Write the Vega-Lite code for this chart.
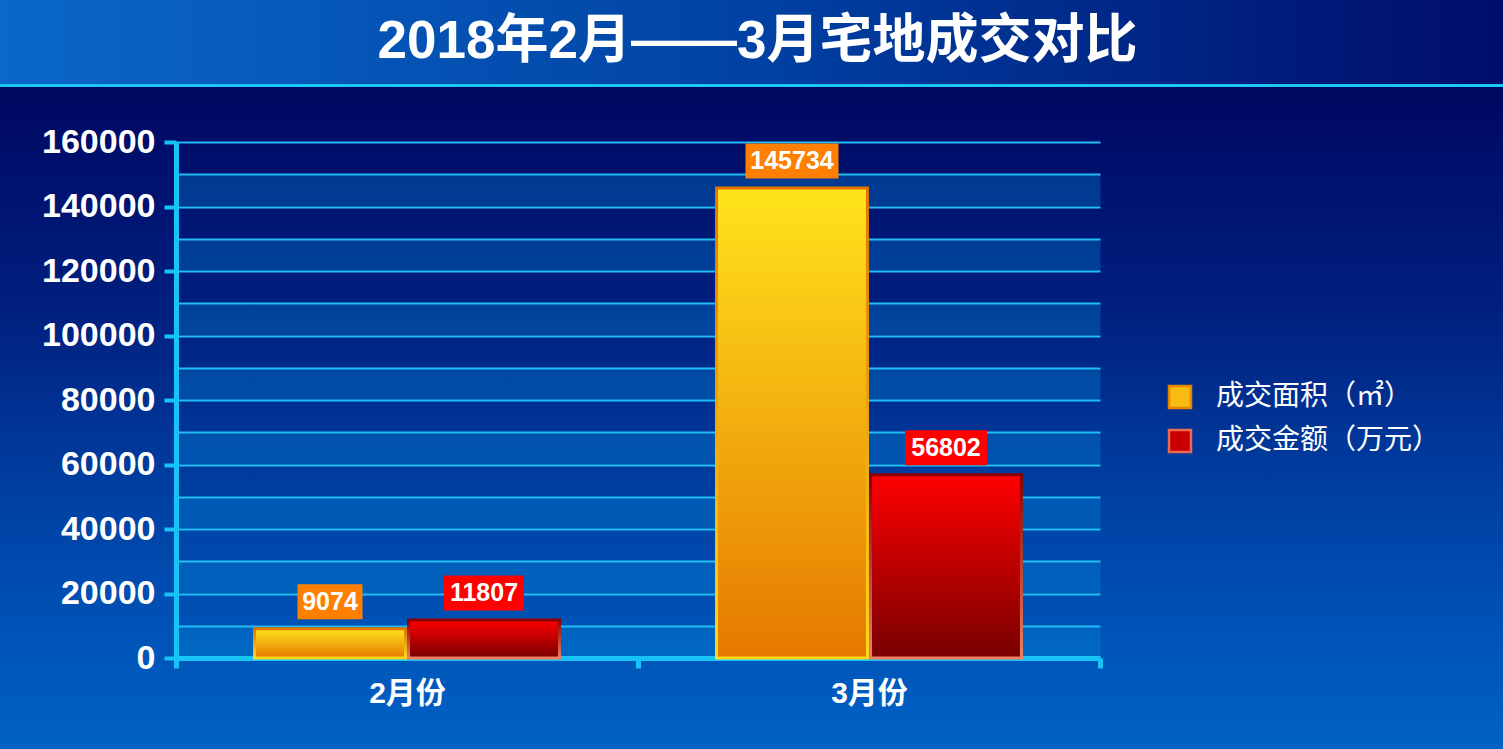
{
  "$schema": "https://vega.github.io/schema/vega-lite/v6.json",
  "padding": 0,
  "autosize": {"type": "pad"},
  "background": "#00308f",
  "spacing": 0,
  "config": {"view": {"stroke": null}},
  "vconcat": [
    {
      "width": 1503,
      "height": 84,
      "view": {
        "stroke": null,
        "fill": {"gradient": "linear", "x1": 0, "y1": 0, "x2": 1, "y2": 0,
          "stops": [{"offset": 0, "color": "#0a68c8"}, {"offset": 0.5, "color": "#0042a4"}, {"offset": 1, "color": "#000c6a"}]}
      },
      "data": {"values": [{"title": "2018年2月——3月宅地成交对比"}]},
      "mark": {"type": "text", "font": "Liberation Sans, Noto Sans CJK SC", "fontSize": 53, "fontWeight": "bold", "color": "#ffffff", "baseline": "middle", "align": "center", "dx": 6},
      "encoding": {"text": {"field": "title"}}
    },
    {
      "width": 1503,
      "height": 665,
      "view": {
        "stroke": null,
        "fill": {"gradient": "linear", "x1": 0, "y1": 0, "x2": 0, "y2": 1,
          "stops": [
            {"offset": 0, "color": "#1ec6f6"},
            {"offset": 0.0045, "color": "#1ec6f6"},
            {"offset": 0.0046, "color": "#00085e"},
            {"offset": 0.044, "color": "#000a66"},
            {"offset": 0.344, "color": "#00207f"},
            {"offset": 0.546, "color": "#00389a"},
            {"offset": 0.746, "color": "#004cb0"},
            {"offset": 1, "color": "#0062c6"}
          ]}
      },
      "data": {"values": [
        {"month": "2月份", "series": "成交面积（㎡）", "value": 9074},
        {"month": "2月份", "series": "成交金额（万元）", "value": 11807},
        {"month": "3月份", "series": "成交面积（㎡）", "value": 145734},
        {"month": "3月份", "series": "成交金额（万元）", "value": 56802}
      ]},
      "encoding": {
        "x": {
          "field": "month", "type": "nominal",
          "scale": {"domain": ["2月份", "3月份"], "range": [176, 1100], "paddingInner": 0, "paddingOuter": 0},
          "axis": {
            "orient": "bottom", "offset": -91, "tickBand": "extent",
            "labelFont": "Liberation Sans, Noto Sans CJK SC", "labelFontSize": 30, "labelFontWeight": "bold",
            "labelColor": "#ffffff", "labelAngle": 0, "labelPadding": 10,
            "tickSize": 10, "tickWidth": 5, "tickColor": "#17c3f7",
            "domainColor": "#17c3f7", "domainWidth": 5, "grid": false, "title": null
          }
        },
        "xOffset": {
          "field": "series", "type": "nominal",
          "scale": {"domain": ["成交面积（㎡）", "成交金额（万元）"], "paddingInner": 0.02, "paddingOuter": 0.51}
        },
        "y": {
          "field": "value", "type": "quantitative",
          "scale": {"domain": [0, 160000], "range": [574, 58], "nice": false, "zero": true},
          "axis": {
            "orient": "left", "offset": -176,
            "values": [0, 5000, 10000, 15000, 20000, 25000, 30000, 35000, 40000, 45000, 50000, 55000, 60000, 65000, 70000, 75000, 80000, 85000, 90000, 95000, 100000, 105000, 110000, 115000, 120000, 125000, 130000, 135000, 140000, 145000, 150000, 155000, 160000],
            "format": "d",
            "labelExpr": "datum.value % 20000 === 0 ? datum.label : ''",
            "labelFont": "Liberation Sans", "labelFontSize": 34, "labelFontWeight": "bold", "labelColor": "#ffffff",
            "labelPadding": 9, "labelOverlap": false, "labelBound": false,
            "tickSize": 12, "tickWidth": 4,
            "tickColor": {"condition": {"test": "datum.value % 20000 === 0", "value": "#17c3f7"}, "value": "rgba(0,0,0,0)"},
            "domainColor": "#17c3f7", "domainWidth": 5,
            "grid": true,
            "gridColor": {"condition": {"test": "datum.value % 10000 === 5000", "value": "rgba(0,140,215,0.33)"}, "value": "#22bdf3"},
            "gridWidth": {"condition": {"test": "datum.value % 10000 === 5000", "value": 31}, "value": 1.8},
            "gridOpacity": {"condition": {"test": "datum.value % 20000 === 15000", "value": 0}, "value": 1},
            "title": null
          }
        }
      },
      "layer": [
        {
          "transform": [{"filter": "datum.series === '成交面积（㎡）'"}],
          "mark": {
            "type": "bar", "strokeWidth": 3,
            "fill": {"gradient": "linear", "x1": 0, "y1": 0, "x2": 0, "y2": 1, "stops": [{"offset": 0, "color": "#ffe41c"}, {"offset": 1, "color": "#e67800"}]},
            "stroke": {"gradient": "linear", "x1": 0, "y1": 0, "x2": 0, "y2": 1, "stops": [{"offset": 0, "color": "#e27400"}, {"offset": 1, "color": "#ffd81c"}]}
          }
        },
        {
          "transform": [{"filter": "datum.series === '成交金额（万元）'"}],
          "mark": {
            "type": "bar", "strokeWidth": 3,
            "fill": {"gradient": "linear", "x1": 0, "y1": 0, "x2": 0, "y2": 1, "stops": [{"offset": 0, "color": "#ff0000"}, {"offset": 1, "color": "#780000"}]},
            "stroke": {"gradient": "linear", "x1": 0, "y1": 0, "x2": 0, "y2": 1, "stops": [{"offset": 0, "color": "#8a0000"}, {"offset": 1, "color": "#f08060"}]}
          }
        },
        {
          "transform": [{"filter": "datum.series === '成交面积（㎡）'"}],
          "mark": {"type": "point", "filled": true, "opacity": 1, "size": 10000, "yOffset": -27, "strokeWidth": 0, "color": "#ff8000"},
          "encoding": {
            "shape": {
              "field": "value", "type": "nominal",
              "scale": {"domain": [9074, 11807, 145734, 56802],
                "range": ["M-0.65,-0.35H0.65V0.35H-0.65Z", "M-0.8,-0.35H0.8V0.35H-0.8Z", "M-0.93,-0.35H0.93V0.35H-0.93Z", "M-0.82,-0.35H0.82V0.35H-0.82Z"]},
              "legend": null
            }
          }
        },
        {
          "transform": [{"filter": "datum.series === '成交金额（万元）'"}],
          "mark": {"type": "point", "filled": true, "opacity": 1, "size": 10000, "yOffset": -27, "strokeWidth": 0, "color": "#ff0000"},
          "encoding": {
            "shape": {
              "field": "value", "type": "nominal",
              "scale": {"domain": [9074, 11807, 145734, 56802],
                "range": ["M-0.65,-0.35H0.65V0.35H-0.65Z", "M-0.8,-0.35H0.8V0.35H-0.8Z", "M-0.93,-0.35H0.93V0.35H-0.93Z", "M-0.82,-0.35H0.82V0.35H-0.82Z"]},
              "legend": null
            }
          }
        },
        {
          "mark": {"type": "text", "font": "Liberation Sans", "fontSize": 25, "fontWeight": "bold", "color": "#ffffff", "baseline": "middle", "align": "center", "yOffset": -27},
          "encoding": {"text": {"field": "value", "type": "quantitative", "format": "d"}}
        },
        {
          "mark": {"type": "point", "filled": true, "opacity": 0, "size": 1},
          "encoding": {
            "fill": {
              "field": "series", "type": "nominal",
              "scale": {"domain": ["成交面积（㎡）", "成交金额（万元）"], "range": ["#f8bc12", "#c80000"]},
              "legend": {
                "orient": "none", "legendX": 1166, "legendY": 383, "title": null, "padding": 0,
                "symbolType": "square", "symbolSize": 484, "symbolStrokeWidth": 2.5, "symbolOpacity": 1,
                "labelFont": "Noto Sans CJK SC", "labelFontSize": 28, "labelColor": "#ffffff",
                "labelOffset": 22, "rowPadding": 12, "labelLimit": 400
              }
            },
            "stroke": {
              "field": "series", "type": "nominal",
              "scale": {"domain": ["成交面积（㎡）", "成交金额（万元）"], "range": ["#e88600", "#ec6a55"]},
              "legend": {
                "orient": "none", "legendX": 1166, "legendY": 383, "title": null, "padding": 0,
                "symbolType": "square", "symbolSize": 484, "symbolStrokeWidth": 2.5, "symbolOpacity": 1,
                "labelFont": "Noto Sans CJK SC", "labelFontSize": 28, "labelColor": "#ffffff",
                "labelOffset": 22, "rowPadding": 12, "labelLimit": 400
              }
            }
          }
        }
      ]
    }
  ]
}
